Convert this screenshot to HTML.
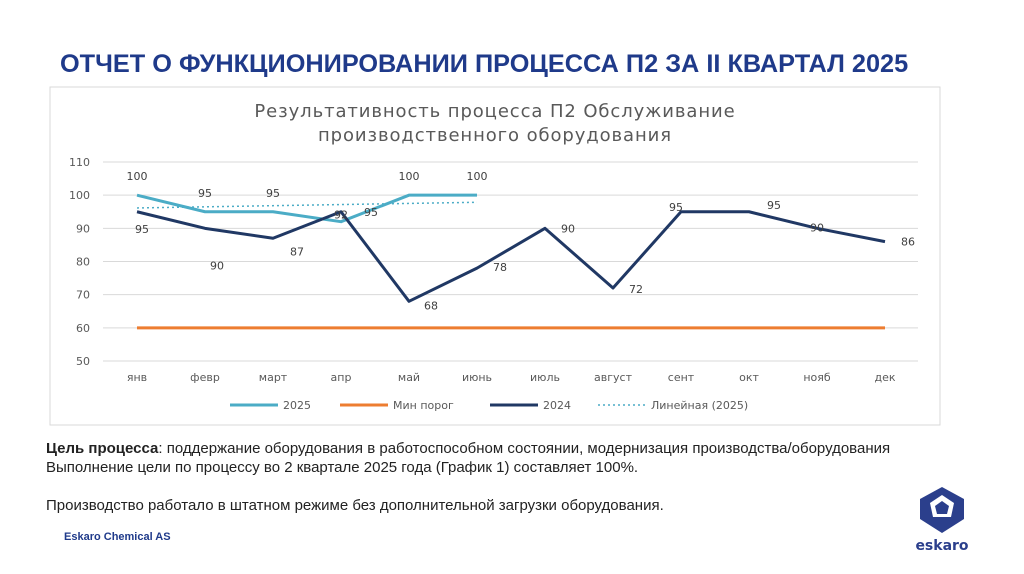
<!DOCTYPE html>
<html><head><meta charset="utf-8">
<style>
body{margin:0;width:1024px;height:574px;background:#fff;font-family:"Liberation Sans",sans-serif;position:relative;overflow:hidden}
.title{position:absolute;left:60px;top:50px;font-size:25.3px;font-weight:bold;color:#1f3a8a}
.txt{position:absolute;left:46px;top:439px;font-size:15px;color:#222;line-height:19px}
.foot{position:absolute;left:64px;top:531px;font-size:11px;font-weight:bold;color:#1f3a8a}
svg text{font-family:"DejaVu Sans","Liberation Sans",sans-serif}
</style></head><body>
<div class="title">ОТЧЕТ О ФУНКЦИОНИРОВАНИИ ПРОЦЕССА П2 ЗА II КВАРТАЛ 2025</div>
<svg id="chart" width="1024" height="574" style="position:absolute;left:0;top:0">
<rect x="50" y="87" width="890" height="338" fill="#fff" stroke="#d9d9d9"/>
<text x="495" y="117" text-anchor="middle" font-size="18" letter-spacing="0.9" fill="#595959">Результативность процесса П2 Обслуживание</text>
<text x="495" y="141" text-anchor="middle" font-size="18" letter-spacing="0.9" fill="#595959">производственного оборудования</text>
<g id="g"></g>
</svg>
<div class="txt"><b>Цель процесса</b>: поддержание оборудования в работоспособном состоянии, модернизация производства/оборудования<br>Выполнение цели по процессу во 2 квартале 2025 года (График 1) составляет 100%.<br><br>Производство работало в штатном режиме без дополнительной загрузки оборудования.</div>
<div class="foot">Eskaro Chemical AS</div>
<svg width="60" height="70" style="position:absolute;left:912px;top:485px">
<path d="M30 2 L52 14 L52 34 L30 48 L8 34 L8 14 Z" fill="#2b3f8c"/>
<path d="M30 10 L42 18 L39 32 L21 32 L18 18 Z" fill="#fff"/>
<path d="M30 16 L37 21 L35 29 L25 29 L23 21 Z" fill="#2b3f8c"/>
<text x="30" y="65" text-anchor="middle" font-size="14" font-weight="bold" fill="#2b3f8c">eskaro</text>
</svg>
<script>
const months=["янв","февр","март","апр","май","июнь","июль","август","сент","окт","нояб","дек"];
const s2025=[100,95,95,92,100,100];
const s2024=[95,90,87,95,68,78,90,72,95,95,90,86];
const minPorog=[60,60,60,60,60,60,60,60,60,60,60,60];
const yTicks=[50,60,70,80,90,100,110];
const NS="http://www.w3.org/2000/svg";
const g=document.getElementById('g');
const X=i=>137+i*68, Y=v=>361-(v-50)*199/60;
function el(t,a,p){const e=document.createElementNS(NS,t);for(const k in a)e.setAttribute(k,a[k]);(p||g).appendChild(e);return e;}
yTicks.forEach(v=>{
 const l=el('line',{x1:103,x2:918,y1:Y(v),y2:Y(v),stroke:'#d9d9d9','stroke-width':1});
 
 
 const t=el('text',{x:90,y:Y(v)+4,'text-anchor':'end','font-size':11,fill:'#595959'});t.textContent=v;
 
 
});
months.forEach((m,i)=>{
 const t=el('text',{x:X(i),y:381,'text-anchor':'middle','font-size':11,fill:'#595959'});t.textContent=m;
 
 
});
function line(arr,col,w,name,dash){
 const p=el('polyline',{points:arr.map((v,i)=>X(i)+','+Y(v)).join(' '),fill:'none',stroke:col,'stroke-width':w,'stroke-linejoin':'round'});
 if(dash)p.setAttribute('stroke-dasharray',dash);
 
 
 return p;
}
line(minPorog,'#ed7d31',3,'series-min-porog');
const n=s2025.length,mx=(n-1)/2,my=s2025.reduce((a,b)=>a+b)/n;
let num=0,den=0;s2025.forEach((v,i)=>{num+=(i-mx)*(v-my);den+=(i-mx)*(i-mx);});
const sl=num/den;
const tr=line([my-sl*mx,my+sl*mx],'#4bacc6',1.5,'trendline-2025','2,3');
tr.setAttribute('points',X(0)+','+Y(my-sl*mx)+' '+X(n-1)+','+Y(my+sl*mx));
line(s2025,'#4bacc6',3,'series-2025');
line(s2024,'#203864',3,'series-2024');
function lab(x,y,v,name){const t=el('text',{x:x,y:y,'text-anchor':'middle','font-size':11,fill:'#404040'});t.textContent=v;
 
 }
const off25=[[0,-15],[0,-15],[0,-15],[0,-3],[0,-15],[0,-15]];
s2025.forEach((v,i)=>lab(X(i)+off25[i][0],Y(v)+off25[i][1],v,'label-2025-'+i));
const off24=[[5,21],[12,41],[24,17],[30,4],[22,8],[23,3],[23,4],[23,5],[-5,-1],[25,-3],[0,3],[23,4]];
s2024.forEach((v,i)=>lab(X(i)+off24[i][0],Y(v)+off24[i][1],v,'label-2024-'+i));
const lg=[['2025','#4bacc6',null,230],['Мин порог','#ed7d31',null,340],['2024','#203864',null,490],['Линейная (2025)','#4bacc6','2,3',598]];
lg.forEach(([t,c,d,x])=>{
 const l=el('line',{x1:x,x2:x+48,y1:405,y2:405,stroke:c,'stroke-width':d?1.5:3});
 if(d)l.setAttribute('stroke-dasharray',d);
 
 
 const tx=el('text',{x:x+53,y:409,'font-size':11,fill:'#595959'});tx.textContent=t;
 
 
});
</script>
</body></html>
